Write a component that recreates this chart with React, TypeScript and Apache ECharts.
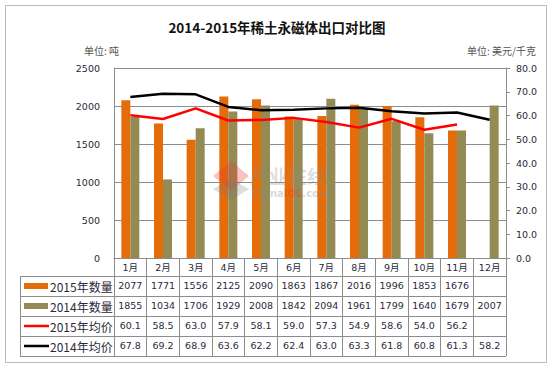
import React, { useEffect, useRef } from "react";
import * as echarts from "echarts";

const months = ["1月", "2月", "3月", "4月", "5月", "6月", "7月", "8月", "9月", "10月", "11月", "12月"];
const qty2015: (number | null)[] = [2077, 1771, 1556, 2125, 2090, 1863, 1867, 2016, 1996, 1853, 1676, null];
const qty2014: (number | null)[] = [1855, 1034, 1706, 1929, 2008, 1842, 2094, 1961, 1799, 1640, 1679, 2007];
const price2015: (number | null)[] = [60.1, 58.5, 63.0, 57.9, 58.1, 59.0, 57.3, 54.9, 58.6, 54.0, 56.2, null];
const price2014: (number | null)[] = [67.8, 69.2, 68.9, 63.6, 62.2, 62.4, 63.0, 63.3, 61.8, 60.8, 61.3, 58.2];

const seriesNames = ["2015年数量", "2014年数量", "2015年均价", "2014年均价"];
const leftAxis = { min: 0, max: 2500, interval: 500 };
const rightAxis = { min: 0, max: 80, interval: 10 };

const ORANGE = "#E46C0A";
const OLIVE = "#948A54";
const RED = "#FF0000";
const BLACK = "#000000";
const GRID_COLOR = "#8c8c8c";
const TEXT = "#2a2a3a";
const NUM_FONT = "DejaVu Sans, Noto Sans CJK SC, sans-serif";
const CJK_FONT = "Noto Sans CJK SC, sans-serif";

// layout
const W = 554;
const H = 368;
const PLOT_L = 114;
const PLOT_R = 506;
const PLOT_T = 68;
const PLOT_B = 258;
const HEADER_H = 18;
const ROW_H = 20;
const TABLE_L = 20;

export default function App() {
  const ref = useRef<HTMLDivElement>(null);

  useEffect(() => {
    if (!ref.current) return;
    const chart = echarts.init(ref.current, undefined, { renderer: "svg" });

    const fmtQty = (v: number | null) => (v == null ? "" : String(v));
    const fmtPrice = (v: number | null) => (v == null ? "" : v.toFixed(1));
    const rows = [
      { name: seriesNames[0], labels: qty2015.map(fmtQty) },
      { name: seriesNames[1], labels: qty2014.map(fmtQty) },
      { name: seriesNames[2], labels: price2015.map(fmtPrice) },
      { name: seriesNames[3], labels: price2014.map(fmtPrice) },
    ];

    const tableBottom = PLOT_B + HEADER_H + ROW_H * rows.length;

    const rowAxes = rows.map((r, i) => ({
      type: "category",
      gridIndex: 0,
      position: "bottom",
      offset: HEADER_H + ROW_H * i,
      data: r.labels,
      axisLine: { show: false },
      axisTick: { show: false },
      splitLine: { show: false },
      axisLabel: {
        interval: 0,
        margin: 5,
        color: TEXT,
        fontSize: 9.5,
        fontFamily: NUM_FONT,
      },
    }));

    const graphics: any[] = [
      {
        type: "rect",
        shape: { x: 5.5, y: 5.5, width: 541, height: 357 },
        style: { fill: "none", stroke: "#b8b8b8", lineWidth: 1 },
        z: -1,
      },
      {
        type: "text",
        left: 84,
        top: 45,
        style: { text: "单位: 吨", fontSize: 10, fill: "#555", fontFamily: CJK_FONT },
      },
      {
        type: "text",
        right: 18,
        top: 45,
        style: { text: "单位: 美元/千克", fontSize: 10, fill: "#555", fontFamily: CJK_FONT },
      },
      // table left border
      {
        type: "line",
        shape: { x1: TABLE_L + 0.5, y1: PLOT_B + HEADER_H, x2: TABLE_L + 0.5, y2: tableBottom },
        style: { stroke: GRID_COLOR, lineWidth: 1 },
      },
    ];
    for (let i = 0; i <= rows.length; i++) {
      const y = PLOT_B + HEADER_H + ROW_H * i + 0.5;
      graphics.push({
        type: "line",
        shape: { x1: TABLE_L, y1: y, x2: PLOT_R, y2: y },
        style: { stroke: GRID_COLOR, lineWidth: 1 },
      });
    }
    const swatchColors = [ORANGE, OLIVE, RED, BLACK];
    rows.forEach((r, i) => {
      const cy = PLOT_B + HEADER_H + ROW_H * i + ROW_H / 2;
      if (i < 2) {
        graphics.push({
          type: "rect",
          shape: { x: 24, y: cy - 3, width: 24, height: 6 },
          style: { fill: swatchColors[i] },
        });
      } else {
        graphics.push({
          type: "line",
          shape: { x1: 24, y1: cy, x2: 49, y2: cy },
          style: { stroke: swatchColors[i], lineWidth: 2.5 },
        });
      }
      graphics.push({
        type: "text",
        x: 50,
        y: cy,
        style: {
          text: r.name,
          fontSize: 12,
          fill: TEXT,
          fontFamily: CJK_FONT,
          verticalAlign: "middle",
        },
      });
    });
    // watermark
    graphics.push(
      {
        type: "polygon",
        shape: { points: [[231, 161], [249, 176], [231, 191], [213, 176]] },
        style: { fill: "rgba(230,60,50,0.3)" },
        z: 20,
      },
      {
        type: "polygon",
        shape: { points: [[231, 179], [249, 189], [231, 200], [213, 189]] },
        style: { fill: "rgba(120,120,120,0.25)" },
        z: 20,
      },
      {
        type: "text",
        x: 250,
        y: 166,
        style: {
          text: "产业在线",
          fontSize: 19,
          fontWeight: "bold",
          fill: "rgba(140,140,140,0.3)",
          fontFamily: CJK_FONT,
        },
        z: 20,
      },
      {
        type: "text",
        x: 252,
        y: 188,
        style: {
          text: "{a|China}{b|IOL}{a|.com}",
          rich: {
            a: { fontSize: 10, fontWeight: "bold", fill: "rgba(140,140,140,0.35)", fontFamily: "DejaVu Sans" },
            b: { fontSize: 10, fontWeight: "bold", fill: "rgba(230,60,50,0.35)", fontFamily: "DejaVu Sans" },
          },
        },
        z: 20,
      }
    );

    chart.setOption({
      animation: false,
      backgroundColor: "#ffffff",
      title: {
        text: "2014-2015年稀土永磁体出口对比图",
        left: "center",
        top: 15,
        textStyle: { fontSize: 13.5, fontWeight: "bold", color: "#111", fontFamily: CJK_FONT },
      },
      grid: {
        left: PLOT_L,
        right: W - PLOT_R,
        top: PLOT_T,
        bottom: H - PLOT_B,
        containLabel: false,
      },
      xAxis: [
        {
          type: "category",
          data: months,
          gridIndex: 0,
          position: "bottom",
          axisLine: { show: true, lineStyle: { color: GRID_COLOR, width: 1 } },
          axisTick: {
            show: true,
            interval: 0,
            length: tableBottom - PLOT_B,
            lineStyle: { color: GRID_COLOR, width: 1 },
          },
          axisLabel: {
            interval: 0,
            margin: 5,
            color: TEXT,
            fontSize: 9.5,
            fontFamily: NUM_FONT,
          },
          splitLine: { show: false },
        },
        ...rowAxes,
      ],
      yAxis: [
        {
          type: "value",
          min: leftAxis.min,
          max: leftAxis.max,
          interval: leftAxis.interval,
          position: "left",
          axisLine: { show: true, lineStyle: { color: GRID_COLOR } },
          axisTick: { show: false },
          axisLabel: {
            margin: 14,
            color: TEXT,
            fontSize: 9.5,
            fontFamily: NUM_FONT,
            formatter: (v: number) => String(v),
          },
          splitLine: { show: true, lineStyle: { color: GRID_COLOR, width: 1 } },
        },
        {
          type: "value",
          min: rightAxis.min,
          max: rightAxis.max,
          interval: rightAxis.interval,
          position: "right",
          axisLine: { show: true, lineStyle: { color: GRID_COLOR } },
          axisTick: { show: true, length: 4, lineStyle: { color: GRID_COLOR } },
          axisLabel: {
            margin: 10,
            color: TEXT,
            fontSize: 9.5,
            fontFamily: NUM_FONT,
            formatter: (v: number) => v.toFixed(1),
          },
          splitLine: { show: false },
        },
      ],
      series: [
        {
          name: seriesNames[0],
          type: "bar",
          xAxisIndex: 0,
          yAxisIndex: 0,
          data: qty2015,
          barWidth: 9,
          barGap: "0%",
          itemStyle: { color: ORANGE },
          z: 2,
        },
        {
          name: seriesNames[1],
          type: "bar",
          xAxisIndex: 0,
          yAxisIndex: 0,
          data: qty2014,
          barWidth: 9,
          barGap: "0%",
          itemStyle: { color: OLIVE },
          z: 2,
        },
        {
          name: seriesNames[2],
          type: "line",
          xAxisIndex: 0,
          yAxisIndex: 1,
          data: price2015,
          showSymbol: false,
          symbol: "none",
          lineStyle: { color: RED, width: 2.5 },
          z: 3,
        },
        {
          name: seriesNames[3],
          type: "line",
          xAxisIndex: 0,
          yAxisIndex: 1,
          data: price2014,
          showSymbol: false,
          symbol: "none",
          lineStyle: { color: BLACK, width: 2.5 },
          z: 3,
        },
      ],
      graphic: graphics,
    });

    return () => chart.dispose();
  }, []);

  return (
    <div
      ref={ref}
      style={{ position: "fixed", left: 0, top: 0, width: W, height: H, background: "#fff" }}
    />
  );
}
